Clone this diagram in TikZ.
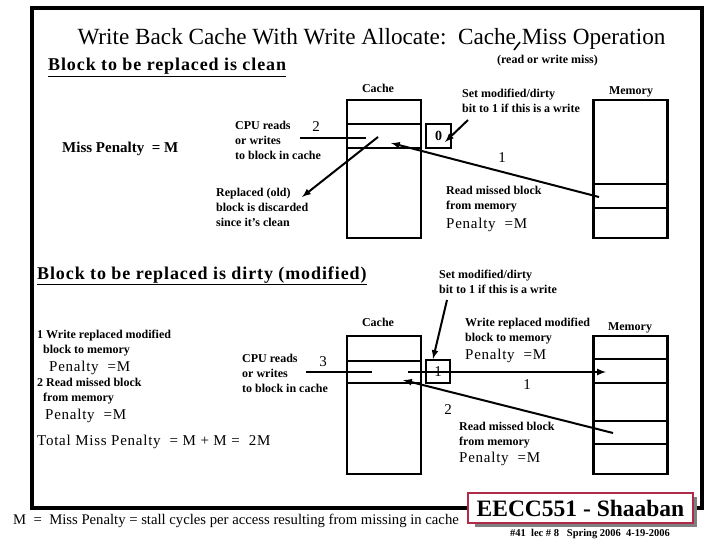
\documentclass[tikz,border=0pt]{standalone}
\usepackage{fontspec}
\setmainfont{Liberation Serif}
\newfontfamily\espace[LetterSpace=5]{Liberation Serif}
\newcommand\petit{\fontsize{12}{15}\selectfont\bfseries}
\newcommand\penal{\espace\fontsize{15}{17}\selectfont}
\newcommand\chiffre{\fontsize{15}{17}\selectfont}
\definecolor{bordeaux}{RGB}{176,42,74}
\definecolor{ombre}{RGB}{128,128,128}
\begin{document}
\begin{tikzpicture}[x=1pt,y=-1pt]
		% Styles
		\tikzstyle{fleche}=[->,>=latex,line width=2pt]
		\tikzstyle{trait}=[-,line width=2pt]
		\tikzstyle{case}=[draw,line width=2.8pt,inner sep=0pt,minimum width=74pt]
		\tikzstyle{texte}=[inner sep=0pt,align=left,anchor=north west,font=\petit]
		\tikzstyle{commentaire}=[inner sep=0pt,anchor=north west,font=\penal]
		\tikzstyle{numero}=[inner sep=0pt,font=\chiffre]
		\tikzstyle{entete}=[inner sep=0pt,anchor=north west,font=\espace\fontsize{18}{22}\selectfont\bfseries]
		% Dimensions
		\def\XCache{384}
		\def\XMemoire{630.5}
		\def\XBit{438.5}
		\useasboundingbox (0,0) rectangle (720,540);
		% Cadre
		\node[draw,line width=3.5pt,minimum width=670pt,minimum height=500pt] (cadre) at (367,258) {};
		% Titres
		\node[inner sep=0pt,anchor=north,font=\fontsize{23.2}{27}\selectfont] (titre) at (371.5,28) {Write Back Cache With Write Allocate:\ \ Cache Miss Operation};
		\node[entete] (propre) at (48,58) {\underline{Block to be replaced is clean}};
		\node[texte,anchor=north,font=\fontsize{12}{14}\selectfont\bfseries] (lectecr) at (547.5,55) {(read or write miss)};
		\coordinate (trA) at (514,50);
		\coordinate (trB) at (520,42);
		% Cache et memoire (propre)
		\node[texte,anchor=north] (cacheA) at (378,84) {Cache};
		\node[texte,anchor=north] (memoireA) at (631,86) {Memory};
		\node[case,minimum height=24pt] (ca1) at (\XCache,112) {};
		\node[case,minimum height=24pt] (ca2) at (\XCache,136) {};
		\node[case,minimum height=90pt] (ca3) at (\XCache,193) {};
		\node[case,minimum height=84pt] (ma1) at (\XMemoire,142) {};
		\node[case,minimum height=24pt] (ma2) at (\XMemoire,196) {};
		\node[case,minimum height=30pt] (ma3) at (\XMemoire,223) {};
		\node[case,minimum width=25pt,minimum height=24pt,font=\fontsize{14}{16}\selectfont\bfseries] (bitA) at (\XBit,136) {0};
		% Textes (propre)
		\node[texte] (modifA) at (462,89) {Set modified/dirty\\bit to 1 if this is a write};
		\node[texte] (cpuA) at (235,121) {CPU reads\\or writes\\to block in cache};
		\node[numero] (deuxA) at (316,127) {2};
		\node[texte] (jeteA) at (216,188) {Replaced (old)\\block is discarded\\since it's clean};
		\node[numero] (unA) at (502,158) {1};
		\node[texte] (lireA) at (446,186) {Read missed block\\from memory};
		\node[commentaire] (penA) at (446,218) {Penalty\ \ =M};
		\node[inner sep=0pt,anchor=north west,font=\fontsize{15}{17}\selectfont\bfseries] (penalite) at (62,141.5) {Miss Penalty\ \ = M};
		% Arcs (propre)
		\coordinate (cpuAd) at (300,138);
		\coordinate (cpuAf) at (366,138);
		\coordinate (ancienA) at (378,137);
		\coordinate (sortieA) at (302,197);
		\coordinate (modifAd) at (468,120);
		\coordinate (modifAf) at (445,142);
		\coordinate (memAd) at (599,197);
		\coordinate (memAf) at (391,143);
		\draw[line width=1.6pt] (trA)--(trB);
		\draw[trait] (cpuAd)--(cpuAf);
		\draw[fleche] (ancienA)--(sortieA);
		\draw[fleche] (modifAd)--(modifAf);
		\draw[fleche] (memAd)--(memAf);
		% Cache et memoire (modifie)
		\node[entete] (sale) at (37,266.5) {\underline{Block to be replaced is dirty (modified)}};
		\node[texte,anchor=north] (cacheB) at (378,318) {Cache};
		\node[texte,anchor=north] (memoireB) at (630,322) {Memory};
		\node[case,minimum height=25pt] (cb1) at (\XCache,348.5) {};
		\node[case,minimum height=22pt] (cb2) at (\XCache,372) {};
		\node[case,minimum height=91pt] (cb3) at (\XCache,428.5) {};
		\node[case,minimum height=23pt] (mb1) at (\XMemoire,347.5) {};
		\node[case,minimum height=24pt] (mb2) at (\XMemoire,371) {};
		\node[case,minimum height=38pt] (mb3) at (\XMemoire,402) {};
		\node[case,minimum height=23pt] (mb4) at (\XMemoire,432.5) {};
		\node[case,minimum height=30pt] (mb5) at (\XMemoire,459) {};
		\node[case,minimum width=24pt,minimum height=23pt,font=\chiffre] (bitB) at (438,371.5) {1};
		% Textes (modifie)
		\node[texte] (modifB) at (439,270) {Set modified/dirty\\bit to 1 if this is a write};
		\node[texte] (ecrireB) at (465,318) {Write replaced modified\\block to memory};
		\node[commentaire] (penB) at (465,349) {Penalty\ \ =M};
		\node[texte] (cpuB) at (242,354) {CPU reads\\or writes\\to block in cache};
		\node[numero] (troisB) at (323,362) {3};
		\node[numero] (unB) at (527,385) {1};
		\node[numero] (deuxB) at (448,410) {2};
		\node[texte] (lireB) at (459,422) {Read missed block\\from memory};
		\node[commentaire] (penC) at (459,452) {Penalty\ \ =M};
		\node[texte] (etapeA) at (37,330) {1 Write replaced modified\\\hspace*{6pt}block to memory};
		\node[commentaire] (penD) at (49,361) {Penalty\ \ =M};
		\node[texte] (etapeB) at (37,378) {2 Read missed block\\\hspace*{6pt}from memory};
		\node[commentaire] (penE) at (45,409) {Penalty\ \ =M};
		\node[commentaire] (total) at (37,435) {Total Miss Penalty\ \ = M + M =\ \ 2M};
		% Arcs (modifie)
		\coordinate (cpuBd) at (306,372);
		\coordinate (cpuBf) at (372,372);
		\coordinate (ecrBd) at (408,372);
		\coordinate (ecrBf) at (606,372);
		\coordinate (modifBd) at (447,300);
		\coordinate (modifBf) at (433,359);
		\coordinate (memBd) at (613,433);
		\coordinate (memBf) at (403,380);
		\draw[trait] (cpuBd)--(cpuBf);
		\draw[fleche] (ecrBd)--(ecrBf);
		\draw[fleche] (modifBd)--(modifBf);
		\draw[fleche] (memBd)--(memBf);
		% Pied de page
		\node[inner sep=0pt,anchor=north west,font=\fontsize{14.7}{17}\selectfont] (defM) at (13,514) {M\ \ =\ \ Miss Penalty = stall cycles per access resulting from missing in cache};
		\node[fill=ombre,minimum width=222pt,minimum height=30pt,inner sep=0pt] (ombrelogo) at (586,512) {};
		\node[draw=bordeaux,fill=white,line width=2pt,minimum width=225pt,minimum height=30pt,inner sep=0pt,font=\fontsize{23.5}{27}\selectfont\bfseries] (logo) at (580.5,508) {EECC551 - Shaaban};
		\node[inner sep=0pt,anchor=north,font=\fontsize{10.5}{12}\selectfont\bfseries] (cours) at (590,529) {\#41\ \ lec \# 8\ \ \ Spring 2006\ \ 4-19-2006};
	\end{tikzpicture}
\end{document}
